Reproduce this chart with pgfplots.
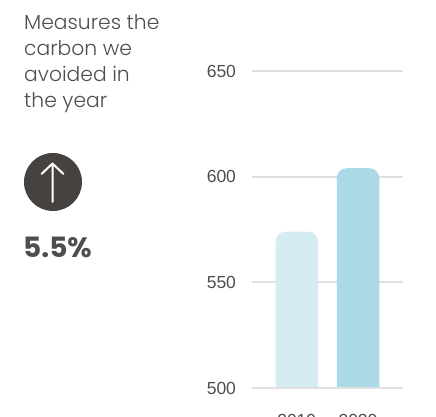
\documentclass[border=0pt]{standalone}
\usepackage{pgfplots}
\pgfplotsset{compat=1.18}
\usepackage{fontspec}
\setmainfont{Liberation Sans}
\newfontfamily\headfont{Poppins Light}
\newfontfamily\figurefont{Poppins}
\definecolor{inktext}{HTML}{4E4E4C}
\definecolor{darkdisc}{HTML}{45423F}
\definecolor{gridgrey}{HTML}{E0E0E0}
\definecolor{barpale}{HTML}{D6ECF3}
\definecolor{barblue}{HTML}{ABDAE6}
\begin{document}
\begin{tikzpicture}[x=1pt,y=1pt]
\useasboundingbox (0,0) rectangle (436,417);
\clip (0,0) rectangle (436,417);
% Summary text and the upward indicator
\node[anchor=north west,inner sep=0pt,text=inktext,align=left,
      font=\headfont\fontsize{20.3}{26}\selectfont] at (24,403)
  {Measures the\\carbon we\\avoided in\\the year};
\fill[darkdisc] (53,235) circle (29);
\draw[white,line width=2pt,line cap=round,line join=round]
  (52.5,215) -- (52.5,253.5) (41.5,243) -- (52.5,253.5) -- (63.5,243);
\node[anchor=base west,inner sep=0pt,text=inktext,font=\figurefont\bfseries\fontsize{28}{28}\selectfont]
  at (23,159) {5.5\%};
% Bars; the lower limit sits under 500 so that only the top corners stay round
\begin{axis}[
  clip mode=individual,
  at={(252pt,-13.27pt)},anchor=south west,
  scale only axis,width=151pt,height=359.27pt,
  xmin=-0.7306,xmax=1.7347,ymin=480,ymax=650,
  ytick={500,550,600,650},
  xtick={0,1},xticklabels={,},
  axis line style={draw=none},
  major tick length=0pt,
  ymajorgrids,
  grid style={gridgrey,line width=2pt},
  y tick label style={/pgf/number format/assume math mode=true,
    font=\fontsize{17.5}{17.5}\selectfont,text=inktext,xshift=-12.5pt},
  ybar,
  bar shift=0pt,
  bar width=42.5pt,
  every axis plot/.append style={draw=none,rounded corners=10pt},
]
\addplot[fill=barpale] coordinates {(0,574)};
\addplot[fill=barblue] coordinates {(1,604)};
\fill[white] (axis cs:-0.7306,480) rectangle (axis cs:1.7347,500);
\draw[gridgrey,line width=2pt] (axis cs:-0.7306,500) -- (axis cs:1.7347,500);
% Year labels sit over the base mask
\node[text=inktext,font=\fontsize{17.5}{17.5}\selectfont,anchor=base] at (axis cs:0,481.8) {2019};
\node[text=inktext,font=\fontsize{17.5}{17.5}\selectfont,anchor=base] at (axis cs:1,481.8) {2020};
\end{axis}
\end{tikzpicture}
\end{document}
